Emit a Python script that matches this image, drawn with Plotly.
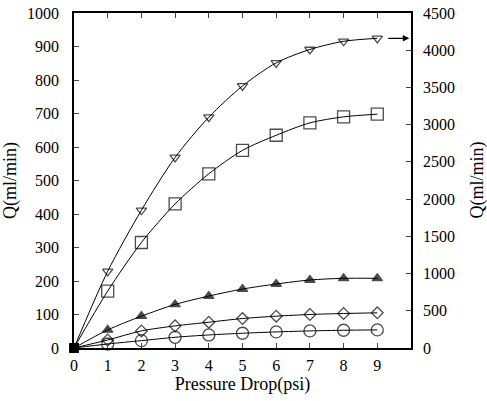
import plotly.graph_objects as go

pressure = [0, 1, 2, 3, 4, 5, 6, 7, 8, 9]
# series on the right axis (arrow) — right-axis units
q_tri_down = [0, 1030, 1850, 2560, 3100, 3520, 3830, 4010, 4120, 4160]
# series on the left axis
q_square = [0, 170, 315, 430, 520, 590, 635, 672, 690, 698]
q_tri_up = [0, 54, 95, 130, 155, 176, 191, 203, 208, 208]
q_diamond = [0, 24, 51, 66, 77, 88, 95, 100, 103, 105]
q_circle = [0, 12, 22, 32, 39, 44, 48, 51, 53, 54]

x_ticks = [0, 1, 2, 3, 4, 5, 6, 7, 8, 9]
left_ticks = [0, 100, 200, 300, 400, 500, 600, 700, 800, 900, 1000]
right_ticks = [0, 500, 1000, 1500, 2000, 2500, 3000, 3500, 4000, 4500]

FONT = "Liberation Serif"
fig = go.Figure()

def series(y, sym, size, yaxis="y"):
    syms = ["square"] + [sym] * (len(y) - 1)
    sizes = [8] + [size] * (len(y) - 1)
    fig.add_trace(go.Scatter(
        x=pressure, y=y, yaxis=yaxis, mode="lines+markers",
        line=dict(color="black", width=1, shape="spline", smoothing=0.8),
        marker=dict(symbol=syms, size=sizes, color="black",
                    line=dict(color="black", width=1.3)),
        showlegend=False, cliponaxis=False))

series(q_circle, "circle-open", 12)
series(q_diamond, "diamond-open", 9)
series(q_tri_up, "triangle-up", 9)
series(q_square, "square-open", 12)
series(q_tri_down, "triangle-down-open", 9, yaxis="y2")

fig.add_annotation(x=9.95, y=q_tri_down[-1], xref="x", yref="y2",
                   ax=9.28, ay=q_tri_down[-1], axref="x", ayref="y2",
                   showarrow=True, arrowhead=2, arrowsize=1, arrowwidth=1.3,
                   arrowcolor="black", text="")

# right axis title as an annotation so it can sit at the far right edge
fig.add_annotation(x=1, y=0.5, xref="paper", yref="paper", xshift=66,
                   xanchor="center", yanchor="middle", textangle=-90,
                   text="Q(ml/min)", showarrow=False,
                   font=dict(family=FONT, size=18, color="black"))

fig.update_layout(
    width=487, height=401,
    margin=dict(l=74, r=76, t=13, b=53, autoexpand=False),
    paper_bgcolor="white", plot_bgcolor="white",
    font=dict(family=FONT, size=15, color="black"),
    xaxis=dict(range=[0, 10], tickvals=x_ticks, ticks="inside", ticklen=5,
               showline=True, linecolor="black", linewidth=1.5, mirror="ticks",
               showgrid=False, zeroline=False, automargin=False,
               ticklabelstandoff=2, tickfont=dict(size=16),
               title=dict(text="Pressure Drop(psi)", standoff=3)),
    yaxis=dict(range=[0, 1000], tickvals=left_ticks, ticks="inside", ticklen=5,
               showline=True, linecolor="black", linewidth=1.5,
               showgrid=False, zeroline=False, automargin=False,
               ticklabelstandoff=10, tickfont=dict(size=16),
               title=dict(text="Q(ml/min)", standoff=6)),
    yaxis2=dict(range=[0, 4500], tickvals=right_ticks, ticks="inside", ticklen=5,
                overlaying="y", side="right",
                showline=True, linecolor="black", linewidth=1.5,
                showgrid=False, zeroline=False, automargin=False,
                ticklabelstandoff=7, tickfont=dict(size=16)),
)

fig.write_html("out.html", config={"displayModeBar": False},
               post_script="document.body.style.margin='0';")
